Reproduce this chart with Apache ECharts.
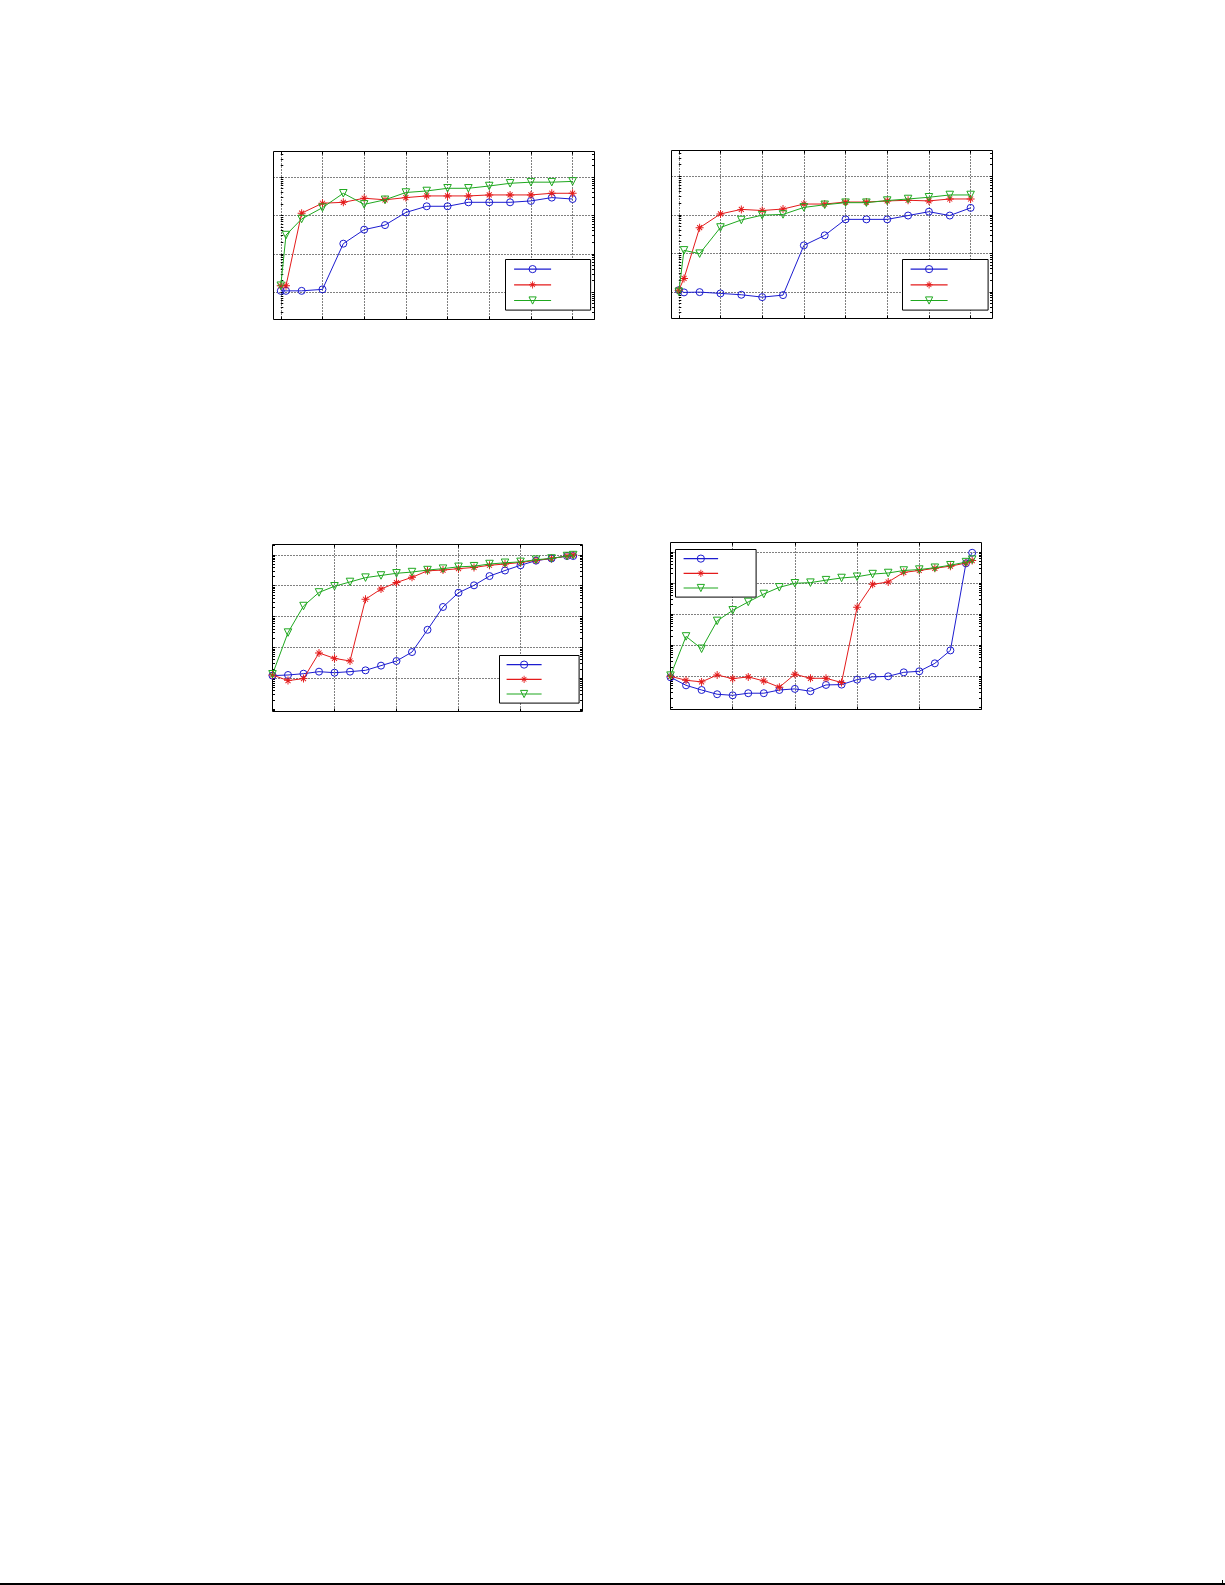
<!DOCTYPE html>
<html><head><meta charset="utf-8">
<script src="https://cdn.jsdelivr.net/npm/echarts@6/dist/echarts.min.js"></script>
<style>html,body{margin:0;padding:0;background:#fff}#c{width:1225px;height:1585px}</style>
</head><body><div id="c"></div>
<script>
// ---------- data ----------
const xTop = [0, 0.25, 1, 2, 3, 4, 5, 6, 7, 8, 9, 10, 11, 12, 13, 14];
const xBottom = [0, 0.05, 0.1, 0.15, 0.2, 0.25, 0.3, 0.35, 0.4, 0.45, 0.5, 0.55, 0.6, 0.65, 0.7, 0.75, 0.8, 0.85, 0.9, 0.95, 0.97];

const xTicksTop = [0, 2, 4, 6, 8, 10, 12, 14];
const xTicksBottom = [0.2, 0.4, 0.6, 0.8];
const yMajorTop = [1, 10, 100, 1000];
const yTicksTop = [0.2,0.3,0.4,0.5,0.6,0.7,0.8,0.9,1,2,3,4,5,6,7,8,9,10,20,30,40,50,60,70,80,90,100,200,300,400,500,600,700,800,900,1000,2000,3000,4000];
const yMajorBottom = [1, 10, 100, 1000, 10000];
const yTicksBottom = [0.09,0.1,0.2,0.3,0.4,0.5,0.6,0.7,0.8,0.9,1,2,3,4,5,6,7,8,9,10,20,30,40,50,60,70,80,90,100,200,300,400,500,600,700,800,900,1000,2000,3000,4000,5000,6000,7000,8000,9000,10000,20000];

// panel 1 (top left)
const p1Blue  = [1.08, 1.08, 1.08, 1.18, 18.4, 42.7, 56.2, 120, 174, 174, 221, 221, 221, 240, 293, 269];
const p1Red   = [1.47, 1.47, 115, 209, 221, 282, 257, 293, 324, 324, 324, 344, 344, 344, 380, 380];
const p1Green = [1.47, 30.9, 81.3, 160, 380, 195, 257, 398, 437, 513, 513, 589, 692, 741, 741, 776];
// panel 2 (top right)
const p2Blue  = [1.10, 0.962, 0.979, 0.906, 0.836, 0.726, 0.818, 16.0, 29.2, 75.9, 75.9, 75.9, 95.5, 120, 95.5, 151];
const p2Red   = [1.10, 2.22, 46.2, 105, 138, 129, 141, 190, 190, 214, 214, 229, 238, 229, 257, 257];
const p2Green = [1.00, 11.9, 9.77, 46.8, 73.3, 97.7, 102, 155, 182, 206, 206, 234, 257, 285, 327, 327];
// panel 3 (bottom left)
const p3Blue  = [1.22, 1.28, 1.41, 1.64, 1.52, 1.64, 1.81, 2.57, 3.63, 7.08, 37.2, 204, 589, 1023, 2042, 3090, 4571, 6457, 7586, 9120, 9120];
const p3Red   = [1.28, 0.841, 0.977, 6.61, 4.42, 3.63, 363, 776, 1259, 1862, 3020, 3199, 3548, 3890, 4571, 5012, 5623, 6607, 7586, 9120, 9772];
const p3Green = [1.35, 30.2, 219, 603, 955, 1318, 1820, 2138, 2512, 2754, 3199, 3548, 4074, 4266, 5012, 5495, 5888, 6918, 7586, 9120, 9772];
// panel 4 (bottom right)
const p4Blue  = [0.933, 0.513, 0.363, 0.265, 0.245, 0.286, 0.286, 0.363, 0.394, 0.331, 0.528, 0.541, 0.782, 0.955, 1.00, 1.34, 1.45, 2.61, 6.79, 4266, 9333];
const p4Red   = [1.00, 0.745, 0.661, 1.10, 0.841, 0.955, 0.708, 0.447, 1.16, 0.863, 0.863, 0.631, 166, 902, 1072, 2188, 2512, 2951, 3467, 4365, 5248];
const p4Green = [1.05, 19.1, 7.67, 60.3, 132, 246, 442, 724, 977, 1023, 1230, 1445, 1585, 1928, 2089, 2512, 2692, 3090, 3715, 4677, 5623];

// ---------- styles / layout ----------
const BLUE = '#1c1cd0', RED = '#e41b1b', GREEN = '#1fa81f';
const STAR = 'path://M8.8 0h2.4v20h-2.4z M0 8.8h20v2.4h-20z M2.9 4.6L4.6 2.9L17.1 15.4L15.4 17.1z M15.4 2.9L17.1 4.6L4.6 17.1L2.9 15.4z';
const KINDS = {
  circ: {symbol: 'circle', size: 7, rotate: 0, color: BLUE, hollow: true},
  star: {symbol: STAR, size: 8, rotate: 0, color: RED, hollow: false},
  tri:  {symbol: 'triangle', size: 7.5, rotate: 180, color: GREEN, hollow: true}
};

const panels = [
  {grid: {left: 273.5, top: 151.5, width: 321, height: 168}, xMin: -0.35, xMax: 15.05, yMin: 0.193, yMax: 4680,
   xs: xTop, xTicks: xTicksTop, yMajor: yMajorTop, yAll: yTicksTop, series: [p1Blue, p1Red, p1Green],
   legend: {left: 505.5, top: 259.5, itemWidth: 37, itemHeight: 9, itemGap: 8, padding: [5.5, 34.5, 5.5, 8]}},
  {grid: {left: 671.5, top: 150.5, width: 321, height: 168}, xMin: -0.35, xMax: 15.05, yMin: 0.202, yMax: 4670,
   xs: xTop, xTicks: xTicksTop, yMajor: yMajorTop, yAll: yTicksTop, series: [p2Blue, p2Red, p2Green],
   legend: {left: 902.5, top: 259.5, itemWidth: 37, itemHeight: 9, itemGap: 8, padding: [5.5, 35.5, 5.5, 7.5]}},
  {grid: {left: 272.5, top: 544.5, width: 310, height: 167}, xMin: 0, xMax: 1, yMin: 0.0841, yMax: 21500,
   xs: xBottom, xTicks: xTicksBottom, yMajor: yMajorBottom, yAll: yTicksBottom, series: [p3Blue, p3Red, p3Green],
   legend: {left: 499.5, top: 655.5, itemWidth: 35, itemHeight: 9, itemGap: 7, padding: [5, 32.5, 5, 6.5]}},
  {grid: {left: 670.5, top: 542.5, width: 311, height: 167}, xMin: 0, xMax: 1, yMin: 0.0857, yMax: 19950,
   xs: xBottom, xTicks: xTicksBottom, yMajor: yMajorBottom, yAll: yTicksBottom, series: [p4Blue, p4Red, p4Green],
   legend: {left: 675.5, top: 549.5, itemWidth: 34.5, itemHeight: 9, itemGap: 7, padding: [5, 33, 5, 7.5]}}
];

const dotted = {color: '#000', width: 1, type: [1, 2]};
const tickStyle = {color: '#000', width: 1};

const grids = [], xAxes = [], yAxes = [], series = [], legends = [];
const kindOrder = ['circ', 'star', 'tri'];

panels.forEach((p, gi) => {
  grids.push(Object.assign({show: true, borderColor: '#000', borderWidth: 1, backgroundColor: 'transparent', containLabel: false}, p.grid));
  const xBase = {type: 'value', gridIndex: gi, min: p.xMin, max: p.xMax,
    axisLine: {show: false}, axisLabel: {show: false}};
  xAxes.push(Object.assign({}, xBase, {position: 'bottom',
    axisTick: {show: true, inside: true, length: 3, lineStyle: tickStyle, customValues: p.xTicks},
    splitLine: {show: true, lineStyle: dotted}}));
  xAxes.push(Object.assign({}, xBase, {position: 'top',
    axisTick: {show: true, inside: true, length: 3, lineStyle: tickStyle, customValues: p.xTicks},
    splitLine: {show: false}}));
  const yBase = {type: 'log', logBase: 10, gridIndex: gi, min: p.yMin, max: p.yMax,
    axisLine: {show: false}, axisLabel: {show: false}};
  yAxes.push(Object.assign({}, yBase, {position: 'left',
    axisTick: {show: false, customValues: p.yMajor},
    splitLine: {show: true, lineStyle: dotted}}));
  const allTicks = p.yAll.filter(v => v >= p.yMin && v <= p.yMax);
  yAxes.push(Object.assign({}, yBase, {position: 'left',
    axisTick: {show: true, inside: true, length: 2.5, lineStyle: tickStyle, customValues: allTicks},
    splitLine: {show: false}}));
  yAxes.push(Object.assign({}, yBase, {position: 'right',
    axisTick: {show: true, inside: true, length: 2.5, lineStyle: tickStyle, customValues: allTicks},
    splitLine: {show: false}}));

  const legendData = [];
  p.series.forEach((ys, si) => {
    const k = KINDS[kindOrder[si]];
    const name = 's' + gi + '_' + si;
    const itemStyle = k.hollow ? {color: 'transparent', borderColor: k.color, borderWidth: 1}
                               : {color: k.color, borderWidth: 0};
    series.push({
      type: 'line', name: name, xAxisIndex: gi * 2, yAxisIndex: gi * 3,
      data: p.xs.map((x, i) => [x, ys[i]]),
      symbol: k.symbol, symbolSize: k.size, symbolRotate: k.rotate, symbolKeepAspect: true,
      showSymbol: true, showAllSymbol: true,
      lineStyle: {color: k.color, width: 1},
      itemStyle: itemStyle,
      emphasis: {disabled: true}, silent: true, z: 2 + si
    });
    legendData.push({name: name, itemStyle: itemStyle, lineStyle: {color: k.color, width: 1.2}});
  });
  legends.push(Object.assign({
    orient: 'vertical', align: 'left', data: legendData,
    backgroundColor: '#fff', borderColor: '#000', borderWidth: 1, borderRadius: 0,
    selectedMode: false, formatter: () => '',
    textStyle: {fontSize: 1, lineHeight: 1}
  }, p.legend));
});

const chart = echarts.init(document.getElementById('c'), null, {renderer: 'canvas'});
chart.setOption({
  animation: false,
  backgroundColor: '#fff',
  grid: grids, xAxis: xAxes, yAxis: yAxes, series: series, legend: legends,
  graphic: [
    {type: 'rect', left: 0, top: 1583, shape: {width: 1225, height: 2}, style: {fill: '#000'}},
    {type: 'rect', left: 1222, top: 1580, shape: {width: 1, height: 3}, style: {fill: '#000'}}
  ]
});
</script>
</body></html>
